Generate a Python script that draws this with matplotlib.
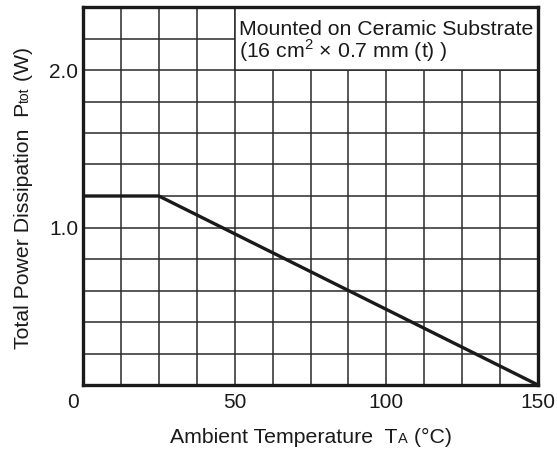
import matplotlib
matplotlib.use("Agg")
import matplotlib.pyplot as plt
import matplotlib.transforms as mtransforms
from matplotlib.patches import Rectangle

plt.rcParams['font.family'] = ['Liberation Sans', 'DejaVu Sans']
plt.rcParams['mathtext.fontset'] = 'custom'
plt.rcParams['mathtext.rm'] = 'Liberation Sans'

# Data
temp = [0, 25, 150]
power = [1.2, 1.2, 0.0]
x_ticks = [0, 50, 100, 150]
x_tick_labels = ['0', '50', '100', '150']
y_ticks = [1.0, 2.0]
y_tick_labels = ['1.0', '2.0']
grid_x = [12.5 * i for i in range(13)]
grid_y = [0.2 * i for i in range(13)]
note_lines = ['Mounted on Ceramic Substrate', r'(16 cm$^{2}$ × 0.7 mm (t) )']

W, H, DPI = 5.57, 4.62, 100
fig = plt.figure(figsize=(W, H), dpi=DPI)
ax = fig.add_axes([83/557, 1 - 385/462, (538-83)/557, (385-7)/462])
ax.set_xlim(0, 150)
ax.set_ylim(0, 2.4)

for gx in grid_x[1:-1]:
    ax.axvline(gx, color='#2a2a2a', lw=1.1, zorder=1)
for gy in grid_y[1:-1]:
    ax.axhline(gy, color='#2a2a2a', lw=1.1, zorder=1)

ax.plot(temp, power, color='#1a1a1a', lw=2.4, zorder=3, solid_capstyle='butt')

ax.add_patch(Rectangle((50, 2.0), 100, 0.4, facecolor='white', edgecolor='#2a2a2a',
                       lw=1.1, zorder=2))
ax.text(51.4, 2.222, note_lines[0], fontsize=15.3, va='baseline', ha='left', zorder=4,
        color='#1a1a1a')
ax.text(51.4, 2.076, note_lines[1], fontsize=15.3, va='baseline', ha='left', zorder=4,
        color='#1a1a1a')

for s in ax.spines.values():
    s.set_linewidth(2.4)
    s.set_color('#1a1a1a')
    s.set_zorder(5)

ax.set_xticks(x_ticks)
ax.set_xticklabels(x_tick_labels, fontsize=15, color='#1a1a1a')
ax.set_yticks(y_ticks)
ax.set_yticklabels(y_tick_labels, fontsize=15, color='#1a1a1a')
ax.tick_params(length=0)
ax.tick_params(axis='y', pad=3.5)
ax.tick_params(axis='x', pad=6)
lbl0 = ax.get_xticklabels()[0]
lbl0.set_transform(lbl0.get_transform() + mtransforms.ScaledTranslation(-10/DPI, 0, fig.dpi_scale_trans))


def chain_label(pieces, center, baseline, rotation):
    renderer = fig.canvas.get_renderer()
    ident = mtransforms.IdentityTransform()
    texts = []
    lengths = []
    for s, size in pieces:
        t = fig.text(0, 0, s, fontsize=size, rotation=rotation, rotation_mode='anchor',
                     ha='left', va='baseline', transform=ident, color='#1a1a1a')
        ext = t.get_window_extent(renderer)
        lengths.append(ext.width if rotation == 0 else ext.height)
        texts.append(t)
    pos = center - sum(lengths) / 2
    for t, L in zip(texts, lengths):
        if rotation == 0:
            t.set_position((pos, baseline))
        else:
            t.set_position((baseline, pos))
        pos += L


chain_label([('Ambient Temperature  T', 15.3), ('A', 10.5), (' (°C)', 15.3)],
            center=311, baseline=462 - 443, rotation=0)
chain_label([('Total Power Dissipation  P', 15.3), ('tot', 10), (' (W)', 15.3)],
            center=462 - 198, baseline=29, rotation=90)

fig.savefig('out.png', dpi=DPI)
